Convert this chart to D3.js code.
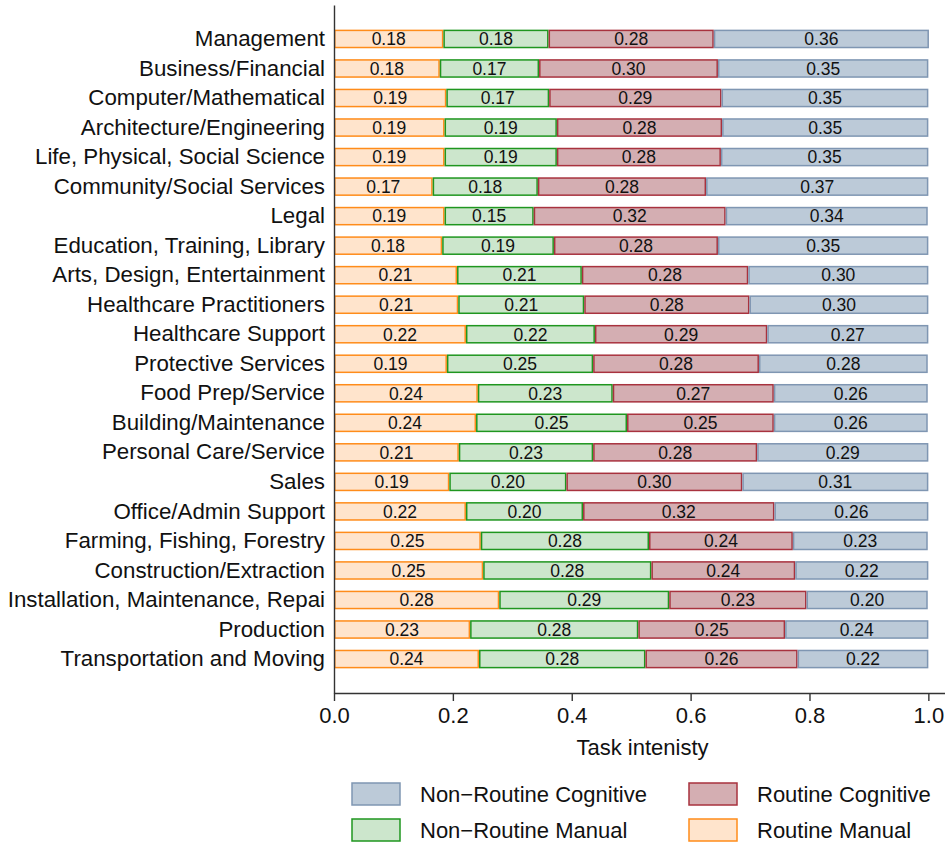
<!DOCTYPE html>
<html>
<head>
<meta charset="utf-8">
<script src="https://cdn.jsdelivr.net/npm/d3@7"></script>
<style>
  body { margin: 0; background: #fff; }
  svg { display: block; font-family: "Liberation Sans", Arial, Helvetica, sans-serif; }
</style>
</head>
<body>
<svg id="chart" width="945" height="844"></svg>
<script>
const categories = [
  "Management", "Business/Financial", "Computer/Mathematical", "Architecture/Engineering",
  "Life, Physical, Social Science", "Community/Social Services", "Legal",
  "Education, Training, Library", "Arts, Design, Entertainment", "Healthcare Practitioners",
  "Healthcare Support", "Protective Services", "Food Prep/Service", "Building/Maintenance",
  "Personal Care/Service", "Sales", "Office/Admin Support", "Farming, Fishing, Forestry",
  "Construction/Extraction", "Installation, Maintenance, Repai", "Production",
  "Transportation and Moving"
];
const routineManual      = [0.184,0.178,0.189,0.186,0.186,0.166,0.186,0.182,0.207,0.209,0.222,0.190,0.242,0.239,0.210,0.194,0.222,0.247,0.251,0.278,0.229,0.244];
const nonRoutineManual   = [0.177,0.167,0.173,0.189,0.189,0.177,0.150,0.188,0.210,0.212,0.217,0.246,0.227,0.254,0.226,0.197,0.197,0.283,0.283,0.286,0.283,0.280];
const routineCognitive   = [0.278,0.301,0.290,0.278,0.276,0.283,0.323,0.276,0.280,0.278,0.290,0.279,0.271,0.247,0.276,0.296,0.322,0.242,0.242,0.231,0.247,0.256];
const nonRoutineCognitive= [0.362,0.354,0.348,0.347,0.349,0.374,0.340,0.354,0.303,0.301,0.271,0.284,0.259,0.259,0.288,0.313,0.259,0.227,0.224,0.204,0.241,0.220];
const xTicks = [0, 0.2, 0.4, 0.6, 0.8, 1.0];
const seriesNames = ["Routine Manual", "Non\u2212Routine Manual", "Routine Cognitive", "Non\u2212Routine Cognitive"];
const fills   = ["#ffe4cc", "#cce6cc", "#d4aeb2", "#bccad8"];
const strokes = ["#ff8c1a", "#1f961f", "#a8323e", "#7f96b2"];

const series = [routineManual, nonRoutineManual, routineCognitive, nonRoutineCognitive];
const rows = categories.map((c, i) => {
  const o = { cat: c };
  series.forEach((s, k) => o["s" + k] = s[i]);
  return o;
});
const keys = ["s0", "s1", "s2", "s3"];
const stacked = d3.stack().keys(keys)(rows);

const svg = d3.select("#chart");
const xMax = 1.028;
const x = d3.scaleLinear().domain([0, xMax]).range([334, 945]);
const y = d3.scaleBand().domain(categories).range([5, 693]).paddingInner(0.42).paddingOuter(0.86);

const layers = svg.append("g").selectAll("g").data(stacked).join("g")
  .attr("fill", (d, i) => fills[i])
  .attr("stroke", (d, i) => strokes[i])
  .attr("stroke-width", 1.5);

layers.selectAll("rect").data(d => d).join("rect")
  .attr("x", d => x(d[0]) + 0.75)
  .attr("y", d => y(d.data.cat))
  .attr("width", d => x(d[1]) - x(d[0]) - 1.5)
  .attr("height", y.bandwidth());

const labG = svg.append("g").attr("font-size", 17.5).attr("fill", "#111").attr("text-anchor", "middle");
stacked.forEach((layer) => {
  labG.selectAll(null).data(layer).join("text")
    .attr("x", d => (x(d[0]) + x(d[1])) / 2)
    .attr("y", d => y(d.data.cat) + y.bandwidth() / 2)
    .attr("dy", "0.36em")
    .text(d => (d[1] - d[0]).toFixed(2));
});

// Y axis
const yAxis = svg.append("g").attr("transform", `translate(${x(0)},0)`)
  .call(d3.axisLeft(y).tickSize(0).tickPadding(9));
yAxis.select(".domain").attr("stroke", "#333").attr("stroke-width", 1.4);
yAxis.selectAll("text").attr("font-size", 22.3).attr("fill", "#111")
  .attr("font-family", '"Liberation Sans", Arial, sans-serif');

// X axis
const xAxis = svg.append("g").attr("transform", "translate(0,693)")
  .call(d3.axisBottom(x).tickValues(xTicks).tickFormat(d3.format(".1f")).tickSize(8).tickPadding(6).tickSizeOuter(0));
xAxis.select(".domain").attr("stroke", "#333").attr("stroke-width", 1.4);
xAxis.selectAll(".tick line").attr("stroke", "#333").attr("stroke-width", 1.4);
xAxis.selectAll("text").attr("font-size", 22).attr("fill", "#111")
  .attr("font-family", '"Liberation Sans", Arial, sans-serif');

svg.append("text").attr("x", (x(0) + x(xMax)) / 2 + 3).attr("y", 755)
  .attr("text-anchor", "middle").attr("font-size", 22).attr("fill", "#111")
  .text("Task intenisty");

// Legend
const legendItems = [
  { k: 3, col: 0, row: 0 }, { k: 2, col: 1, row: 0 },
  { k: 1, col: 0, row: 1 }, { k: 0, col: 1, row: 1 }
];
const colX = [352, 689], rowY = [783, 819];
const lg = svg.append("g");
legendItems.forEach(it => {
  lg.append("rect").attr("x", colX[it.col]).attr("y", rowY[it.row])
    .attr("width", 48).attr("height", 22)
    .attr("fill", fills[it.k]).attr("stroke", strokes[it.k]).attr("stroke-width", 1.5);
  lg.append("text").attr("x", colX[it.col] + 68).attr("y", rowY[it.row] + 11)
    .attr("dy", "0.36em").attr("font-size", 22).attr("fill", "#111")
    .text(seriesNames[it.k]);
});
</script>
</body>
</html>
